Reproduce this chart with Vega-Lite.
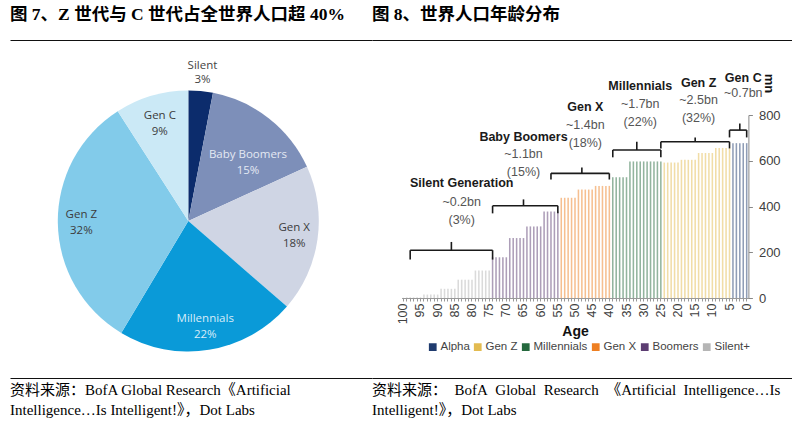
{
  "$schema": "https://vega.github.io/schema/vega-lite/v6.json",
  "padding": {"left": 10, "top": 0, "right": 0, "bottom": 0},
  "background": "white",
  "config": {"view": {"stroke": null}},
  "bounds": "full",
  "spacing": 0,
  "resolve": {"scale": {"color": "independent"}, "legend": {"color": "independent"}},
  "hconcat": [
    {
      "bounds": "flush",
      "spacing": 0,
      "vconcat": [
        {
          "width": 362, "height": 48,
          "data": {"values": [{"t": "图 7、Z 世代与 C 世代占全世界人口超 40%"}]},
          "mark": {"type": "text", "align": "left", "baseline": "bottom", "font": "Liberation Serif, Noto Sans CJK SC", "fontSize": 17.5, "fontWeight": "bold", "color": "#000"},
          "encoding": {
            "x": {"field": "t", "type": "nominal", "scale": {"type": "point", "padding": 0, "align": 0}, "axis": {"orient": "bottom", "offset": -8, "labels": false, "ticks": false, "title": null, "grid": false, "domainColor": "#111", "domainWidth": 1}},
            "text": {"field": "t", "type": "nominal"}
          }
        },
        {
          "width": 356.6, "height": 346,
          "data": {"values": [
            {"g": "Silent", "v": 3, "o": 1, "label": "Silent\n3%"},
            {"g": "Baby Boomers", "v": 15, "o": 2, "label": "Baby Boomers\n15%"},
            {"g": "Gen X", "v": 18, "o": 3, "label": "Gen X\n18%"},
            {"g": "Millennials", "v": 22, "o": 4, "label": "Millennials\n22%"},
            {"g": "Gen Z", "v": 32, "o": 5, "label": "Gen Z\n32%"},
            {"g": "Gen C", "v": 9, "o": 6, "label": "Gen C\n9%"}
          ]},
          "layer": [
            {
              "mark": {"type": "arc", "outerRadius": 130.5},
              "encoding": {
                "theta": {"field": "v", "type": "quantitative", "stack": true},
                "order": {"field": "o", "type": "quantitative"},
                "color": {"field": "g", "type": "nominal", "legend": null, "scale": {"domain": ["Silent", "Baby Boomers", "Gen X", "Millennials", "Gen Z", "Gen C"], "range": ["#0c2c6c", "#7d8fb9", "#cfd5e4", "#0a9ad8", "#82cbea", "#cbe9f6"]}}
              }
            },
            {
              "mark": {"type": "text", "radius": 107, "font": "Open Sans", "fontSize": 11.5, "lineBreak": "\n", "lineHeight": 16, "baseline": "line-bottom"},
              "encoding": {
                "theta": {"field": "v", "type": "quantitative", "stack": true},
                "order": {"field": "o", "type": "quantitative"},
                "text": {"condition": {"test": "datum.g === 'Silent' || datum.g === 'Baby Boomers' || datum.g === 'Gen C'", "value": ""}, "field": "label", "type": "nominal"},
                "color": {"condition": {"test": "datum.g === 'Millennials'", "value": "#d8ecf8"}, "value": "#3c3c3c"}
              }
            },
            {
              "mark": {"type": "text", "radius": 101, "font": "Open Sans", "fontSize": 11.5, "lineBreak": "\n", "lineHeight": 16, "baseline": "line-bottom", "color": "#3c3c3c"},
              "encoding": {
                "theta": {"field": "v", "type": "quantitative", "stack": true},
                "order": {"field": "o", "type": "quantitative"},
                "text": {"condition": {"test": "datum.g !== 'Gen C'", "value": ""}, "field": "label", "type": "nominal"}
              }
            },
            {
              "mark": {"type": "text", "radius": 149, "font": "Open Sans", "fontSize": 11.5, "lineBreak": "\n", "lineHeight": 14, "baseline": "line-bottom", "color": "#444"},
              "encoding": {
                "theta": {"field": "v", "type": "quantitative", "stack": true},
                "order": {"field": "o", "type": "quantitative"},
                "text": {"condition": {"test": "datum.g !== 'Silent'", "value": ""}, "field": "label", "type": "nominal"}
              }
            },
            {
              "mark": {"type": "text", "radius": 83, "thetaOffset": 0.136, "font": "Open Sans", "fontSize": 11.5, "lineBreak": "\n", "lineHeight": 16, "baseline": "line-bottom", "color": "#e4e9f3"},
              "encoding": {
                "theta": {"field": "v", "type": "quantitative", "stack": true},
                "order": {"field": "o", "type": "quantitative"},
                "text": {"condition": {"test": "datum.g !== 'Baby Boomers'", "value": ""}, "field": "label", "type": "nominal"}
              }
            }
          ]
        },
        {
          "width": 362, "height": 2,
          "data": {"values": [{"t": "资料来源：BofA Global Research《Artificial\nIntelligence…Is Intelligent!》，Dot Labs"}]},
          "mark": {"type": "text", "align": "left", "baseline": "alphabetic", "lineBreak": "\n", "lineHeight": 20, "font": "Liberation Serif, Noto Sans CJK SC", "fontSize": 15, "color": "#000"},
          "encoding": {
            "x": {"field": "t", "type": "nominal", "scale": {"type": "point", "padding": 0, "align": 0}, "axis": {"orient": "top", "offset": 16, "labels": false, "ticks": false, "title": null, "grid": false, "domainColor": "#111", "domainWidth": 1}},
            "text": {"field": "t", "type": "nominal"}
          }
        }
      ]
    },
    {
      "bounds": "flush",
      "spacing": 75,
      "vconcat": [
        {
          "width": 420, "height": 40,
          "data": {"values": [{"t": "图 8、世界人口年龄分布"}]},
          "mark": {"type": "text", "align": "left", "baseline": "alphabetic", "font": "Liberation Serif, Noto Sans CJK SC", "fontSize": 17.5, "fontWeight": "bold", "color": "#000"},
          "encoding": {
            "x": {"field": "t", "type": "nominal", "scale": {"type": "point", "padding": 0, "align": 0}, "axis": {"orient": "bottom", "labels": false, "ticks": false, "title": null, "grid": false, "domainColor": "#111", "domainWidth": 1}},
            "text": {"field": "t", "type": "nominal"}
          }
        },
        {
          "width": 376.4, "height": 183,
          "layer": [
            {
              "data": {"values": [
                {"age": 100, "value": 1, "gen": "Silent+"},
                {"age": 99, "value": 3, "gen": "Silent+"}, {"age": 98, "value": 3, "gen": "Silent+"}, {"age": 97, "value": 3, "gen": "Silent+"}, {"age": 96, "value": 3, "gen": "Silent+"}, {"age": 95, "value": 3, "gen": "Silent+"},
                {"age": 94, "value": 15, "gen": "Silent+"}, {"age": 93, "value": 15, "gen": "Silent+"}, {"age": 92, "value": 15, "gen": "Silent+"}, {"age": 91, "value": 15, "gen": "Silent+"}, {"age": 90, "value": 15, "gen": "Silent+"},
                {"age": 89, "value": 40, "gen": "Silent+"}, {"age": 88, "value": 40, "gen": "Silent+"}, {"age": 87, "value": 40, "gen": "Silent+"}, {"age": 86, "value": 40, "gen": "Silent+"}, {"age": 85, "value": 40, "gen": "Silent+"},
                {"age": 84, "value": 80, "gen": "Silent+"}, {"age": 83, "value": 80, "gen": "Silent+"}, {"age": 82, "value": 80, "gen": "Silent+"}, {"age": 81, "value": 80, "gen": "Silent+"}, {"age": 80, "value": 80, "gen": "Silent+"},
                {"age": 79, "value": 120, "gen": "Silent+"}, {"age": 78, "value": 120, "gen": "Silent+"}, {"age": 77, "value": 120, "gen": "Silent+"}, {"age": 76, "value": 120, "gen": "Silent+"}, {"age": 75, "value": 120, "gen": "Silent+"},
                {"age": 74, "value": 178, "gen": "Boomers"}, {"age": 73, "value": 178, "gen": "Boomers"}, {"age": 72, "value": 178, "gen": "Boomers"}, {"age": 71, "value": 178, "gen": "Boomers"}, {"age": 70, "value": 178, "gen": "Boomers"},
                {"age": 69, "value": 262, "gen": "Boomers"}, {"age": 68, "value": 262, "gen": "Boomers"}, {"age": 67, "value": 262, "gen": "Boomers"}, {"age": 66, "value": 262, "gen": "Boomers"}, {"age": 65, "value": 262, "gen": "Boomers"},
                {"age": 64, "value": 313, "gen": "Boomers"}, {"age": 63, "value": 313, "gen": "Boomers"}, {"age": 62, "value": 313, "gen": "Boomers"}, {"age": 61, "value": 313, "gen": "Boomers"}, {"age": 60, "value": 313, "gen": "Boomers"},
                {"age": 59, "value": 378, "gen": "Boomers"}, {"age": 58, "value": 378, "gen": "Boomers"}, {"age": 57, "value": 378, "gen": "Boomers"}, {"age": 56, "value": 378, "gen": "Boomers"}, {"age": 55, "value": 378, "gen": "Boomers"},
                {"age": 54, "value": 438, "gen": "Gen X"}, {"age": 53, "value": 438, "gen": "Gen X"}, {"age": 52, "value": 438, "gen": "Gen X"}, {"age": 51, "value": 438, "gen": "Gen X"}, {"age": 50, "value": 438, "gen": "Gen X"},
                {"age": 49, "value": 474, "gen": "Gen X"}, {"age": 48, "value": 474, "gen": "Gen X"}, {"age": 47, "value": 474, "gen": "Gen X"}, {"age": 46, "value": 474, "gen": "Gen X"}, {"age": 45, "value": 474, "gen": "Gen X"},
                {"age": 44, "value": 490, "gen": "Gen X"}, {"age": 43, "value": 490, "gen": "Gen X"}, {"age": 42, "value": 490, "gen": "Gen X"}, {"age": 41, "value": 490, "gen": "Gen X"}, {"age": 40, "value": 490, "gen": "Gen X"},
                {"age": 39, "value": 528, "gen": "Millennials"}, {"age": 38, "value": 528, "gen": "Millennials"}, {"age": 37, "value": 528, "gen": "Millennials"}, {"age": 36, "value": 528, "gen": "Millennials"}, {"age": 35, "value": 528, "gen": "Millennials"},
                {"age": 34, "value": 597, "gen": "Millennials"}, {"age": 33, "value": 597, "gen": "Millennials"}, {"age": 32, "value": 597, "gen": "Millennials"}, {"age": 31, "value": 597, "gen": "Millennials"}, {"age": 30, "value": 597, "gen": "Millennials"},
                {"age": 29, "value": 597, "gen": "Millennials"}, {"age": 28, "value": 597, "gen": "Millennials"}, {"age": 27, "value": 597, "gen": "Millennials"}, {"age": 26, "value": 597, "gen": "Millennials"}, {"age": 25, "value": 597, "gen": "Millennials"},
                {"age": 24, "value": 592, "gen": "Gen Z"}, {"age": 23, "value": 592, "gen": "Gen Z"}, {"age": 22, "value": 592, "gen": "Gen Z"}, {"age": 21, "value": 592, "gen": "Gen Z"}, {"age": 20, "value": 592, "gen": "Gen Z"},
                {"age": 19, "value": 604, "gen": "Gen Z"}, {"age": 18, "value": 604, "gen": "Gen Z"}, {"age": 17, "value": 604, "gen": "Gen Z"}, {"age": 16, "value": 604, "gen": "Gen Z"}, {"age": 15, "value": 604, "gen": "Gen Z"},
                {"age": 14, "value": 634, "gen": "Gen Z"}, {"age": 13, "value": 634, "gen": "Gen Z"}, {"age": 12, "value": 634, "gen": "Gen Z"}, {"age": 11, "value": 634, "gen": "Gen Z"}, {"age": 10, "value": 634, "gen": "Gen Z"},
                {"age": 9, "value": 656, "gen": "Gen Z"}, {"age": 8, "value": 656, "gen": "Gen Z"}, {"age": 7, "value": 656, "gen": "Gen Z"}, {"age": 6, "value": 656, "gen": "Gen Z"}, {"age": 5, "value": 656, "gen": "Gen Z"},
                {"age": 4, "value": 677, "gen": "Alpha"}, {"age": 3, "value": 677, "gen": "Alpha"}, {"age": 2, "value": 677, "gen": "Alpha"}, {"age": 1, "value": 677, "gen": "Alpha"}, {"age": 0, "value": 677, "gen": "Alpha"}
              ]},
              "mark": {"type": "bar", "fillOpacity": 0.5},
              "encoding": {
                "x": {"field": "age", "type": "ordinal",
                  "scale": {"type": "band", "domain": [100,99,98,97,96,95,94,93,92,91,90,89,88,87,86,85,84,83,82,81,80,79,78,77,76,75,74,73,72,71,70,69,68,67,66,65,64,63,62,61,60,59,58,57,56,55,54,53,52,51,50,49,48,47,46,45,44,43,42,41,40,39,38,37,36,35,34,33,32,31,30,29,28,27,26,25,24,23,22,21,20,19,18,17,16,15,14,13,12,11,10,9,8,7,6,5,4,3,2,1,0], "range": [29.6, 376.4], "paddingInner": 0.55, "paddingOuter": 0.275},
                  "axis": {"title": "Age", "titleFont": "Liberation Sans", "titleFontSize": 14, "titleFontWeight": "bold", "titleColor": "#111", "titlePadding": 1, "labelExpr": "datum.value % 5 === 0 ? datum.label : ''", "labelAngle": -90, "labelFont": "Liberation Sans", "labelFontSize": 12.5, "labelColor": "#404040", "labelPadding": 2, "labelOverlap": false, "tickSize": 3, "tickColor": "#999", "domainColor": "#999", "grid": false}},
                "y": {"field": "value", "type": "quantitative",
                  "scale": {"domain": [0, 800], "nice": false},
                  "axis": {"orient": "right", "values": [0,100,200,300,400,500,600,700,800], "title": "mn", "titleAngle": 90, "titleX": 20, "titleY": -32, "titleAlign": "center", "titleBaseline": "middle", "titleFont": "Liberation Sans", "titleFontSize": 13, "titleFontWeight": "bold", "titleColor": "#111", "labelFont": "Liberation Sans", "labelFontSize": 13, "labelColor": "#404040", "labelPadding": 6, "tickSize": 4, "tickColor": "#888", "domainColor": "#888", "grid": false}},
                "color": {"field": "gen", "type": "nominal",
                  "scale": {"domain": ["Alpha", "Gen Z", "Millennials", "Gen X", "Boomers", "Silent+"], "range": ["#1f3b6e", "#e3bb50", "#25693e", "#ee7f22", "#5c3d72", "#b5b5b5"]},
                  "legend": {"orient": "none", "legendX": 55, "legendY": 341, "direction": "horizontal", "columns": 6, "title": null, "symbolType": "square", "symbolSize": 60, "symbolStrokeWidth": 0, "symbolOpacity": 1, "labelFont": "Liberation Sans", "labelFontSize": 11.5, "labelColor": "#444", "labelOffset": 2, "columnPadding": 2, "padding": 0}}
              }
            },
            {
              "data": {"name": "brackets", "values": [
                {"g": "Silent", "a1": 98, "a2": 74, "am": 86, "yb": 209, "ye": 168, "yt": 245, "la": 83, "ny": 503, "dv": 420, "name": "Silent Generation", "det": "~0.2bn\n(3%)"},
                {"g": "Boomers", "a1": 74, "a2": 55, "am": 65, "yb": 403, "ye": 370, "yt": 431, "la": 65, "ny": 704, "dv": 629, "name": "Baby Boomers", "det": "~1.1bn\n(15%)"},
                {"g": "Gen X", "a1": 57, "a2": 40, "am": 48, "yb": 545, "ye": 518, "yt": 571, "la": 47, "ny": 836, "dv": 755, "name": "Gen X", "det": "~1.4bn\n(18%)"},
                {"g": "Millennials", "a1": 39, "a2": 25, "am": 32, "yb": 647, "ye": 615, "yt": 683, "la": 31, "ny": 927, "dv": 847, "name": "Millennials", "det": "~1.7bn\n(22%)"},
                {"g": "Gen Z", "a1": 25, "a2": 5, "am": 15, "yb": 683, "ye": 654, "yt": 702, "la": 14, "ny": 941, "dv": 866, "name": "Gen Z", "det": "~2.5bn\n(32%)"},
                {"g": "Gen C", "a1": 5, "a2": 0, "am": 2, "yb": 734, "ye": 702, "yt": 763, "la": 1, "ny": 960, "dv": 895, "name": "Gen C", "det": "~0.7bn"}
              ]},
              "layer": [
                {
                  "mark": {"type": "rule", "color": "#1a1a1a", "strokeWidth": 1.6},
                  "encoding": {
                    "x": {"field": "a1", "type": "ordinal"},
                    "x2": {"field": "a2"},
                    "y": {"field": "yb", "type": "quantitative"}
                  }
                },
                {
                  "mark": {"type": "rule", "color": "#1a1a1a", "strokeWidth": 1.6},
                  "encoding": {
                    "x": {"field": "a1", "type": "ordinal"},
                    "y": {"field": "ye", "type": "quantitative"},
                    "y2": {"field": "yb"}
                  }
                },
                {
                  "mark": {"type": "rule", "color": "#1a1a1a", "strokeWidth": 1.6},
                  "encoding": {
                    "x": {"field": "a2", "type": "ordinal"},
                    "y": {"field": "ye", "type": "quantitative"},
                    "y2": {"field": "yb"}
                  }
                },
                {
                  "mark": {"type": "rule", "color": "#1a1a1a", "strokeWidth": 1.6},
                  "encoding": {
                    "x": {"field": "am", "type": "ordinal"},
                    "y": {"field": "yb", "type": "quantitative"},
                    "y2": {"field": "yt"}
                  }
                },
                {
                  "mark": {"type": "text", "font": "Liberation Sans", "fontSize": 12.5, "fontWeight": "bold", "color": "#1a1a1a", "baseline": "middle"},
                  "encoding": {
                    "x": {"field": "la", "type": "ordinal"},
                    "y": {"field": "ny", "type": "quantitative"},
                    "text": {"field": "name", "type": "nominal"}
                  }
                },
                {
                  "mark": {"type": "text", "font": "Liberation Sans", "fontSize": 12.5, "color": "#555", "baseline": "middle", "lineBreak": "\n", "lineHeight": 18},
                  "encoding": {
                    "x": {"field": "la", "type": "ordinal"},
                    "y": {"field": "dv", "type": "quantitative"},
                    "text": {"field": "det", "type": "nominal"}
                  }
                }
              ]
            }
          ]
        },
        {
          "width": 420, "height": 44,
          "data": {"values": [{"t": "资料来源：\u00a0 BofA\u00a0 Global\u00a0 Research\u00a0 《Artificial\u00a0 Intelligence…Is\nIntelligent!》，Dot Labs"}]},
          "mark": {"type": "text", "align": "left", "baseline": "alphabetic", "lineBreak": "\n", "lineHeight": 20, "font": "Liberation Serif, Noto Sans CJK SC", "fontSize": 15, "color": "#000"},
          "encoding": {
            "x": {"field": "t", "type": "nominal", "scale": {"type": "point", "padding": 0, "align": 0}, "axis": {"orient": "top", "offset": -5, "labels": false, "ticks": false, "title": null, "grid": false, "domainColor": "#111", "domainWidth": 1}},
            "text": {"field": "t", "type": "nominal"}
          }
        }
      ]
    }
  ]
}
